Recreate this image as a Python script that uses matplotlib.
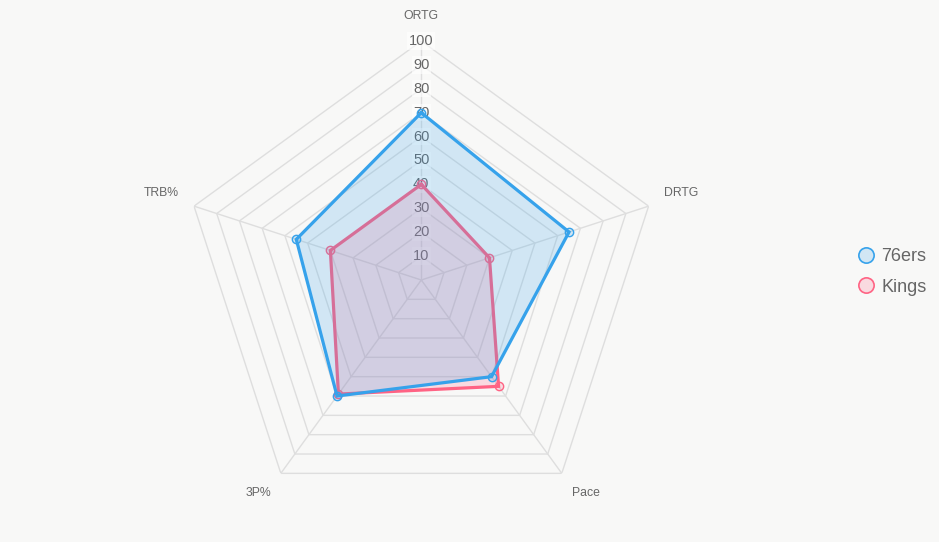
import numpy as np
import matplotlib
matplotlib.use("Agg")
import matplotlib.pyplot as plt
from matplotlib.lines import Line2D

categories = ["ORTG", "DRTG", "Pace", "3P%", "TRB%"]
sixers = [70, 65, 50, 60, 55]
kings = [40, 30, 55, 59, 40]
series_names = ["76ers", "Kings"]
tick_values = [10, 20, 30, 40, 50, 60, 70, 80, 90, 100]

BG = "#f8f8f7"
GRID = "#dedede"
TXT = "#666666"
BLUE = "#36A2EB"
PINK = "#FF6384"

plt.rcParams["font.family"] = ["Liberation Sans", "DejaVu Sans"]

fig = plt.figure(figsize=(9.39, 5.42), dpi=100, facecolor=BG)
W, H = 939, 542
cx, cy, R = 421.3, 280.0, 239.0
ax = fig.add_axes([(cx - R) / W, (H - cy - R) / H, 2 * R / W, 2 * R / H],
                  projection="polar")
ax.set_theta_zero_location("N")
ax.set_theta_direction(-1)
ax.set_ylim(0, 100)
ax.grid(False)
ax.set_xticks([])
ax.set_yticks([])
ax.spines["polar"].set_visible(False)
ax.patch.set_visible(False)

n = len(categories)
theta = np.arange(n) * 2 * np.pi / n
theta_c = np.append(theta, theta[0])

# pentagon grid
for v in tick_values:
    ax.plot(theta_c, [v] * (n + 1), color=GRID, lw=1.0, zorder=1)
for t in theta:
    ax.plot([t, t], [0, 100], color=GRID, lw=1.0, zorder=1)

# tick labels
for v in tick_values:
    ax.text(0, v, str(v), ha="center", va="center", fontsize=10.5, color=TXT,
            zorder=2,
            bbox=dict(facecolor="white", alpha=0.6, edgecolor="none", pad=1.2))

# point labels
offsets = [(0, 25, "center"), (15.5, 13.5, "left"), (10.5, -20, "left"),
           (-9.5, -19.5, "right"), (-15.5, 13.5, "right")]
for t, lab, (dx, dy, ha) in zip(theta, categories, offsets):
    ax.annotate(lab, xy=(t, 100), xytext=(dx, dy), textcoords="offset pixels",
                ha=ha, va="center", fontsize=8.8, color=TXT, zorder=3)

# datasets (drawn in reverse like Chart.js)
for vals, col, z in [(kings, PINK, 4), (sixers, BLUE, 6)]:
    vc = np.append(vals, vals[0])
    ax.fill(theta_c, vc, color=col, alpha=0.2, lw=0, zorder=z)
    ax.plot(theta_c, vc, color=col, lw=2.3, zorder=z + 0.5, solid_joinstyle="miter")
    ax.plot(theta, vals, "o", ms=6, mfc=matplotlib.colors.to_rgba(col, 0.2),
            mec=col, mew=1.0, zorder=z + 0.6, ls="none")

handles = [Line2D([], [], marker="o", ls="none", ms=11,
                  mfc=matplotlib.colors.to_rgba(BLUE, 0.2), mec=BLUE, mew=1.2),
           Line2D([], [], marker="o", ls="none", ms=11,
                  mfc=matplotlib.colors.to_rgba(PINK, 0.2), mec=PINK, mew=1.2)]
leg = fig.legend(handles, series_names, loc="center left",
                 bbox_to_anchor=(848 / W, 1 - 272 / H), frameon=False,
                 fontsize=13, labelcolor=TXT, handletextpad=0.25,
                 labelspacing=0.75, handlelength=1.2, borderaxespad=0)

fig.savefig("out.png", dpi=100, facecolor=BG)
